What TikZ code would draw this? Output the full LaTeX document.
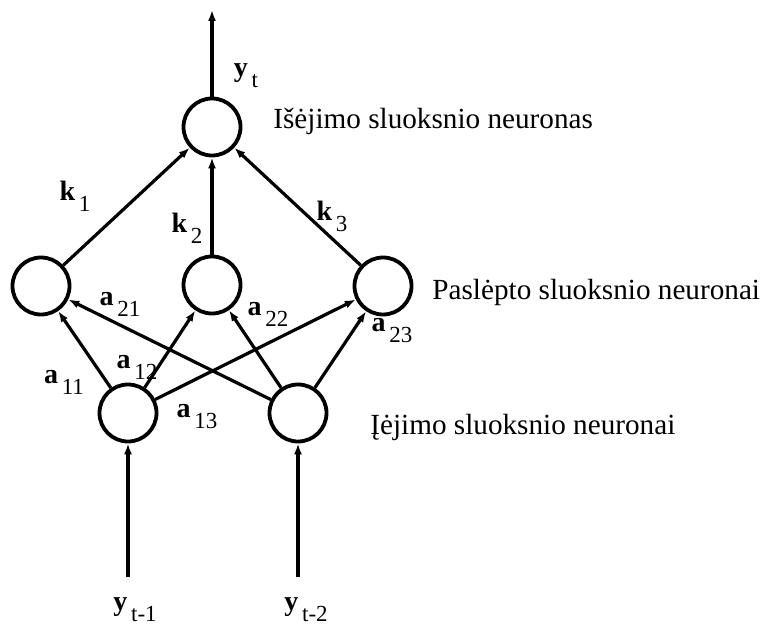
\documentclass[tikz,border=0pt]{standalone}
\usepackage{fontspec}
\setmainfont{Liberation Serif}
\usetikzlibrary{arrows.meta}
\newcommand{\wt}[2]{\textbf{#1}\raisebox{-5.5pt}{\fontsize{11.5}{11.5}\selectfont\,#2}}
\begin{document}
\begin{tikzpicture}[x=0.5pt,y=-0.5pt,
    neuron/.style={circle,draw,line width=1.9pt,minimum size=28.5pt,inner sep=0pt},
    syn/.style={line width=1.6pt,-{Latex[open,length=5.5pt,width=4pt]}},
    lbl/.style={inner sep=0pt,font=\fontsize{14}{16}\selectfont},
    txt/.style={anchor=base west,inner sep=0pt,font=\fontsize{14.6}{17}\selectfont}]
        \useasboundingbox (0,0) rectangle (763,625);
        \node[neuron] (out) at (212,127) {};
        \node[neuron] (h1) at (41,286) {};
        \node[neuron] (h2) at (212,285) {};
        \node[neuron] (h3) at (383,286) {};
        \node[neuron] (i1) at (128,413) {};
        \node[neuron] (i2) at (298,413) {};
        \coordinate (top) at (212,10);
        \coordinate (in1) at (128,577);
        \coordinate (in2) at (298,577);
        \draw[syn] (out) -- (top);
        \draw[syn] (h1) -- (out);
        \draw[syn] (h2) -- (out);
        \draw[syn] (h3) -- (out);
        \draw[syn] (i1) -- (h1);
        \draw[syn] (i1) -- (h2);
        \draw[syn] (i1) -- (h3);
        \draw[syn] (i2) -- (h1);
        \draw[syn] (i2) -- (h2);
        \draw[syn] (i2) -- (h3);
        \draw[syn] (in1) -- (i1);
        \draw[syn] (in2) -- (i2);
        \node[lbl] (yt) at (246,76) {\wt{y}{t}};
        \node[lbl] (k1) at (75,196) {\wt{k}{1}};
        \node[lbl] (k2) at (187,228) {\wt{k}{2}};
        \node[lbl] (k3) at (332,216) {\wt{k}{3}};
        \node[lbl] (a21) at (120,304) {\wt{a}{21}};
        \node[lbl] (a22) at (268,314) {\wt{a}{22}};
        \node[lbl] (a23) at (392,331) {\wt{a}{23}};
        \node[lbl] (a11) at (64,382) {\wt{a}{11}};
        \node[lbl] (a12) at (137,367) {\wt{a}{12}};
        \node[lbl] (a13) at (197,417) {\wt{a}{13}};
        \node[lbl] (yt1) at (135,610) {\wt{y}{t-1}};
        \node[lbl] (yt2) at (306,610) {\wt{y}{t-2}};
        \node[txt] (outtxt) at (273,129) {Išėjimo sluoksnio neuronas};
        \node[txt] (hidtxt) at (432,299) {Paslėpto sluoksnio neuronai};
        \node[txt] (intxt) at (370,434) {Įėjimo sluoksnio neuronai};
\end{tikzpicture}
\end{document}
